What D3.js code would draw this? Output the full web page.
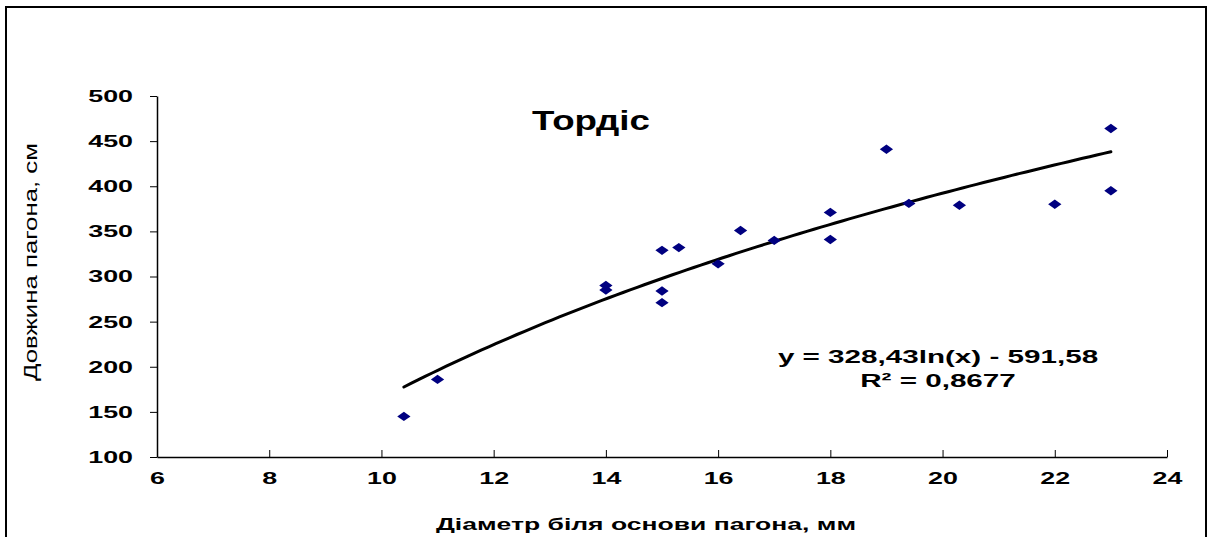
<!DOCTYPE html>
<html>
<head>
<meta charset="utf-8">
<script src="https://cdn.jsdelivr.net/npm/d3@7"></script>
<style>
  html, body { margin: 0; padding: 0; background: #fff; }
  svg { display: block; }
  text { font-family: "Liberation Sans", Arial, sans-serif; fill: #000; }
</style>
</head>
<body>
<svg id="chart" width="1208" height="537"></svg>
<script>
// Shoot diameter at base (mm) and shoot length (cm), cultivar "Тордіс"
const diameter = [10.4, 11, 14, 14, 15, 15, 15, 15.3, 16, 16.4, 17, 18, 18, 19, 19.4, 20.3, 22, 23, 23];
const shootLength = [145, 186, 290, 285, 329, 284, 271, 332, 314, 351, 340, 371, 341, 441, 381, 379, 380, 464, 395];

// Logarithmic trend: y = a*ln(x) + b
const trendA = 328.43;
const trendB = -591.58;
const rSquared = "0,8677";

const xTicks = [6, 8, 10, 12, 14, 16, 18, 20, 22, 24];
const yTicks = [100, 150, 200, 250, 300, 350, 400, 450, 500];

const titleText = "Тордіс";
const xLabel = "Діаметр біля основи пагона, мм";
const yLabel = "Довжина пагона, см";

// the chart's lettering is set wide
const wideTick = 1.58;
const wideText = 1.56;
const wideTitle = 1.36;

const svg = d3.select("#chart");

// outer frame
svg.append("rect")
  .attr("x", 6).attr("y", 7)
  .attr("width", 1200).attr("height", 540)
  .attr("fill", "none").attr("stroke", "#000").attr("stroke-width", 2);

const x = d3.scaleLinear().domain([6, 24]).range([157, 1167]);
const y = d3.scaleLinear().domain([100, 500]).range([457, 96]);

// x axis
const xAxis = svg.append("g")
  .attr("transform", `translate(0,${y(100)})`)
  .call(d3.axisBottom(x).tickValues(xTicks).tickSize(6).tickSizeOuter(0).tickFormat(d3.format("d")));
xAxis.select(".domain").attr("stroke", "#000").attr("stroke-width", 1.5);
xAxis.selectAll(".tick line").attr("stroke", "#000").attr("y1", -7).attr("y2", 0);
xAxis.selectAll(".tick text")
  .attr("y", 15).attr("dy", "0.71em")
  .attr("transform", `scale(${wideTick},1)`)
  .attr("fill", "#000")
  .style("font-size", "17px").style("font-weight", "bold");

// y axis
const yAxis = svg.append("g")
  .attr("transform", `translate(${x(6)},0)`)
  .call(d3.axisLeft(y).tickValues(yTicks).tickSize(7).tickSizeOuter(0).tickFormat(d3.format("d")));
yAxis.select(".domain").attr("stroke", "#000").attr("stroke-width", 1.5);
yAxis.selectAll(".tick line").attr("stroke", "#000");
yAxis.selectAll(".tick text")
  .attr("x", -24 / wideTick)
  .attr("transform", `scale(${wideTick},1)`)
  .attr("fill", "#000")
  .style("font-size", "17px").style("font-weight", "bold");

// trend line over the data range
const xMin = d3.min(diameter), xMax = d3.max(diameter);
const trendPts = d3.range(0, 101).map(i => {
  const xv = xMin + (xMax - xMin) * i / 100;
  return [xv, trendA * Math.log(xv) + trendB];
});
svg.append("path")
  .datum(trendPts)
  .attr("fill", "none")
  .attr("stroke", "#000")
  .attr("stroke-width", 3)
  .attr("stroke-linecap", "round")
  .attr("d", d3.line().x(d => x(d[0])).y(d => y(d[1])));

// data points (diamonds)
const diamond = d3.symbol().type(d3.symbolDiamond2).size(78);
svg.append("g").selectAll("path")
  .data(diameter.map((d, i) => [d, shootLength[i]]))
  .join("path")
  .attr("transform", d => `translate(${x(d[0])},${y(d[1])}) scale(1.2,0.85)`)
  .attr("d", diamond)
  .attr("fill", "#000080");

// horizontally widened text helper
function wideLabel(cx, cy, sx, size, weight, str) {
  svg.append("text")
    .attr("transform", `translate(${cx},${cy}) scale(${sx},1)`)
    .attr("text-anchor", "middle")
    .style("font-size", size).style("font-weight", weight)
    .text(str);
}

// title
wideLabel(591, 130, wideTitle, "27px", "bold", titleText);

// regression equation
const eq = `y = ${String(trendA).replace(".", ",")}ln(x) - ${String(-trendB).replace(".", ",")}`;
wideLabel(938, 363, wideText, "19px", "bold", eq);
wideLabel(938, 387, wideText, "19px", "bold", `R² = ${rSquared}`);

// axis titles
wideLabel(646, 530, wideText, "17px", "bold", xLabel);

svg.append("text")
  .attr("transform", "translate(37,262) rotate(-90)")
  .attr("text-anchor", "middle")
  .attr("textLength", 238).attr("lengthAdjust", "spacingAndGlyphs")
  .style("font-size", "19px")
  .text(yLabel);
</script>
</body>
</html>
